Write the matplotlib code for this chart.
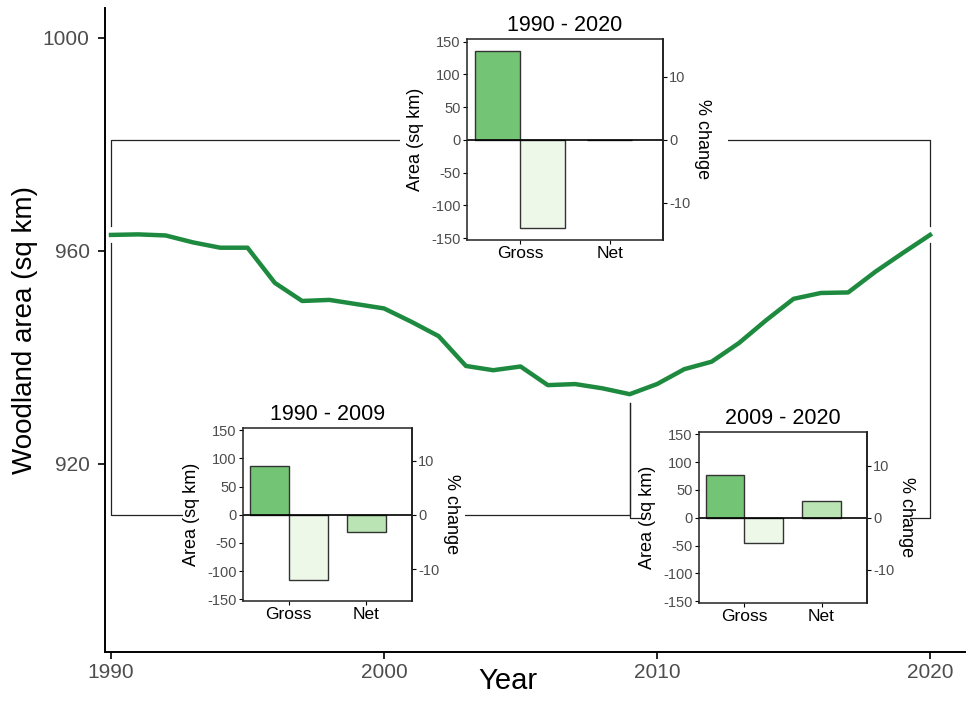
import matplotlib
matplotlib.use("Agg")
import matplotlib.pyplot as plt
import numpy as np

plt.rcParams['font.family'] = ['Liberation Sans', 'DejaVu Sans']
plt.rcParams['axes.unicode_minus'] = False

# woodland area per year (sq km)
years = np.arange(1990, 2021)
area = [963.0, 963.1, 962.9, 961.6, 960.6, 960.6, 954.0, 950.6, 950.8, 950.0,
        949.2, 946.7, 944.0, 938.4, 937.6, 938.3, 934.8, 935.0, 934.2, 933.1,
        935.0, 937.8, 939.2, 942.7, 947.0, 951.0, 952.1, 952.2, 956.1, 959.6,
        963.0]

# inset bar values: gross gain, gross loss, net (sq km)
periods = [(1990, 2020), (1990, 2009), (2009, 2020)]
gains = [135, 86, 76]
losses = [-135, -116, -46]
nets = [0, -30, 30]
categories = ["Gross", "Net"]

line_col = "#1e8a3f"
gain_col = "#74c476"
loss_col = "#edf8e9"
net_col = "#bae4b3"
tick_col = "#4d4d4d"

W, H = 966, 715
fig = plt.figure(figsize=(W / 100, H / 100), dpi=100)


def px(x0, y0, x1, y1):
    # pixel box (left, top, right, bottom) -> figure fraction rect
    return [x0 / W, 1 - y1 / H, (x1 - x0) / W, (y1 - y0) / H]


ax = fig.add_axes(px(105, 8, 965, 652), zorder=0)
ax.plot(years, area, color=line_col, lw=3.2, solid_joinstyle='round', zorder=3)
ax.set_xlim(1989.78, 2021.28)
ax.set_ylim(884.7, 1005.6)
ax.set_xticks([1990, 2000, 2010, 2020])
ax.set_yticks([920, 960, 1000])
for s in ['top', 'right']:
    ax.spines[s].set_visible(False)
for s in ['left', 'bottom']:
    ax.spines[s].set_linewidth(1.4)
ax.tick_params(direction='out', length=5, width=1.2, labelsize=15,
               labelcolor=tick_col, pad=3)
ax.tick_params(axis='y', pad=6)
ax.set_xlabel("Year", fontsize=21)
ax.set_ylabel("Woodland area (sq km)", fontsize=20)
ax.xaxis.set_label_coords(0.469, -0.024)
ax.yaxis.set_label_coords(-0.078, 0.5)

# inset layout in pixels: axes box and white background box
inset_axes_px = [(467, 39, 663, 240), (243, 428, 412, 601), (699, 432, 867, 603)]
inset_bg_px = [(400, 0, 728, 272), (183, 395, 465, 632), (645, 400, 910, 632)]

insets = []
for i, (p0, p1) in enumerate(periods):
    bg = fig.add_axes(px(*inset_bg_px[i]), zorder=1)
    bg.set_xticks([])
    bg.set_yticks([])
    for s in bg.spines.values():
        s.set_visible(False)
    bg.set_facecolor('white')

    ia = fig.add_axes(px(*inset_axes_px[i]), zorder=2)
    ia.bar(1 - 0.25, gains[i], width=0.5, color=gain_col, edgecolor='#333333', lw=1)
    ia.bar(1 + 0.25, losses[i], width=0.5, color=loss_col, edgecolor='#333333', lw=1)
    ia.bar(2, nets[i], width=0.5, color=net_col, edgecolor='#333333', lw=1)
    ia.axhline(0, color='black', lw=1.2)
    ia.set_xlim(0.41, 2.59)
    ia.set_ylim(-153, 154)
    ia.set_xticks([1, 2])
    ia.set_xticklabels(categories)
    ia.set_yticks([-150, -100, -50, 0, 50, 100, 150])
    ia.tick_params(axis='y', labelsize=10.5, labelcolor=tick_col, length=3, pad=1.5)
    ia.tick_params(axis='x', labelsize=12.5, length=3, pad=1.5)
    for s in ia.spines.values():
        s.set_linewidth(1.1)
        s.set_color('#222222')
    ia.set_title(f"{p0} - {p1}", fontsize=15.5, pad=6)
    ia.set_ylabel("Area (sq km)", fontsize=13, labelpad=5)

    base = area[p0 - 1990]
    sec = ia.secondary_yaxis('right', functions=(lambda a, b=base: a / b * 100,
                                                 lambda p, b=base: p * b / 100))
    sec.set_yticks([-10, 0, 10])
    sec.tick_params(labelsize=10.5, labelcolor=tick_col, length=3, pad=1.5)
    sec.spines['right'].set_linewidth(1.1)
    sec.set_ylabel("% change", fontsize=13, rotation=270, labelpad=15)
    insets.append(ia)

# brackets linking each period on the line to its inset's zero line
gap = 1.6
inv = ax.transData.inverted()
for i, (p0, p1) in enumerate(periods):
    zero_y = inv.transform(insets[i].transData.transform((1, 0)))[1]
    v0 = area[p0 - 1990]
    v1 = area[p1 - 1990]
    if zero_y > v0:
        y0, y1 = v0 + gap, v1 + gap
    else:
        y0, y1 = v0 - gap, v1 - gap
    ax.plot([p0, p0, p1, p1], [y0, zero_y, zero_y, y1], color='#222222',
            lw=0.9, zorder=2)

fig.savefig("out.png", dpi=100)
